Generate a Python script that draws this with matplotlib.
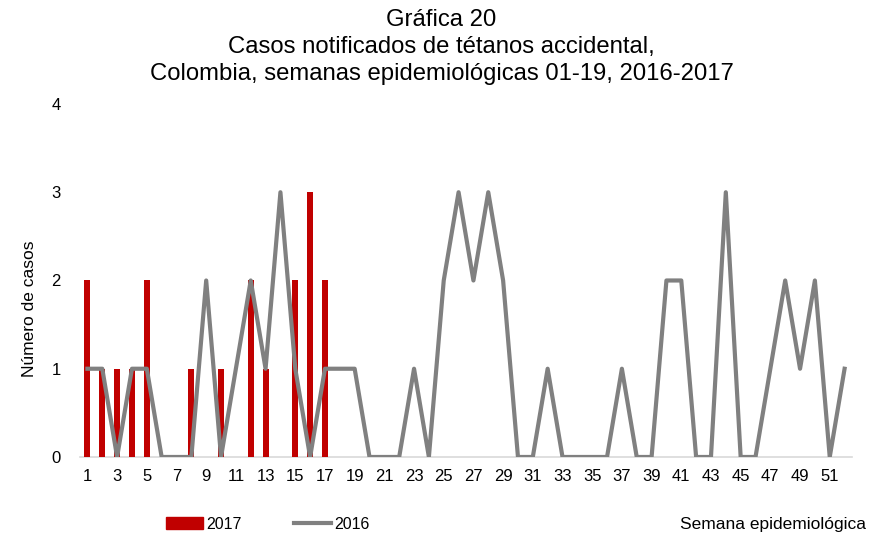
import matplotlib.pyplot as plt
import matplotlib.patches as mpatches
import matplotlib.lines as mlines
import numpy as np

plt.rcParams['font.family'] = ['Liberation Sans', 'DejaVu Sans']

# data
weeks = np.arange(1, 53)
casos_2016 = [1, 1, 0, 1, 1, 0, 0, 0, 2, 0, 1, 2, 1, 3, 1, 0, 1, 1, 1, 0,
              0, 0, 1, 0, 2, 3, 2, 3, 2, 0, 0, 1, 0, 0, 0, 0, 1, 0, 0, 2,
              2, 0, 0, 3, 0, 0, 1, 2, 1, 2, 0, 1]
weeks_2017 = np.arange(1, 20)
casos_2017 = [2, 1, 1, 1, 2, 0, 0, 1, 0, 1, 0, 2, 1, 0, 2, 3, 2, 0, 0]
tick_weeks = list(range(1, 53, 2))

fig = plt.figure(figsize=(8.83, 5.38), dpi=100)
ax = fig.add_axes([0.0906, 0.1506, 0.8743, 0.6561])

ax.bar(weeks_2017, casos_2017, width=0.4, color='#c00000', zorder=2)
ax.plot(weeks, casos_2016, color='#808080', linewidth=3, zorder=3)

ax.set_xlim(0.5, 52.5)
ax.set_ylim(0, 4)
ax.set_yticks([0, 1, 2, 3, 4])
ax.set_xticks(tick_weeks)
ax.set_xticklabels([str(w) for w in tick_weeks])
ax.tick_params(axis='both', length=0, labelsize=12)
ax.tick_params(axis='x', pad=9)
ax.tick_params(axis='y', pad=14)

for side in ['top', 'right', 'left']:
    ax.spines[side].set_visible(False)
ax.spines['bottom'].set_color('#d9d9d9')
ax.spines['bottom'].set_linewidth(1.2)
ax.spines['bottom'].set_zorder(1)

ax.set_ylabel('Número de casos', fontsize=12.5)
ax.yaxis.set_label_coords(-0.056, 0.42)

fig.text(0.5, 1 - 9 / 538, 'Gráfica 20\nCasos notificados de tétanos accidental,\n'
         'Colombia, semanas epidemiológicas 01-19, 2016-2017',
         ha='center', va='top', fontsize=17.2, linespacing=1.28)

h17 = mpatches.Patch(color='#c00000', label='2017')
h16 = mlines.Line2D([], [], color='#808080', linewidth=3, label='2016')
fig.legend(handles=[h17, h16], loc='center left', bbox_to_anchor=(0.172, 0.026),
           ncol=2, frameon=False, fontsize=11.5, handlelength=2.3,
           columnspacing=3.3, handletextpad=0.2)
fig.text(0.981, 0.026, 'Semana epidemiológica', ha='right', va='center', fontsize=12.5)

fig.savefig('out.png', dpi=100)
